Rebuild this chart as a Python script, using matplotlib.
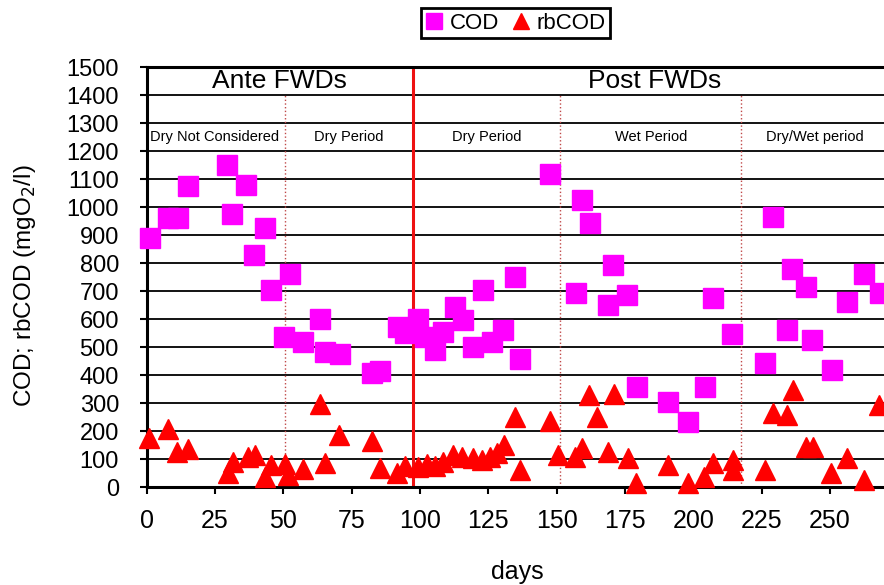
import matplotlib.pyplot as plt

plt.rcParams['font.family'] = ['Liberation Sans', 'DejaVu Sans']

# COD samples (day, mgO2/l)
cod_days = [1.2, 7.9, 11.3, 15.0, 29.4, 31.3, 36.2, 39.3, 43.3, 45.5, 50.3, 52.4,
            57.3, 63.4, 65.2, 70.7, 82.3, 85.4, 92.0, 94.5, 99.4, 101.8, 105.5,
            108.5, 112.8, 115.8, 119.5, 123.2, 126.2, 130.5, 134.8, 136.6, 147.6,
            157.1, 159.2, 162.2, 168.9, 170.7, 175.9, 179.3, 190.9, 198.2, 204.3,
            207.1, 214.0, 226.2, 229.3, 234.2, 236.0, 241.2, 243.3, 250.6, 256.1,
            262.5, 268.3]
cod_vals = [890, 960, 960, 1076, 1150, 975, 1078, 829, 924, 704, 535, 763,
            519, 599, 483, 477, 408, 415, 572, 549, 600, 537, 489,
            555, 644, 596, 501, 704, 519, 561, 751, 459, 1120,
            692, 1025, 942, 650, 793, 686, 358, 305, 233, 358,
            674, 548, 444, 965, 561, 780, 715, 525, 418, 662,
            763, 692]

# readily biodegradable COD samples
rb_days = [0.8, 7.9, 11.2, 15.0, 29.6, 31.7, 37.0, 39.6, 43.3, 45.5, 50.6, 51.8,
           57.3, 63.4, 65.2, 70.5, 82.3, 85.4, 91.5, 94.5, 99.4, 102.4, 105.5,
           108.5, 112.2, 115.3, 119.5, 122.6, 125.6, 128.0, 130.7, 134.8, 136.6,
           147.7, 150.6, 156.7, 159.2, 162.0, 164.9, 168.9, 171.0, 176.0, 178.9,
           190.9, 197.9, 204.0, 207.1, 214.6, 214.4, 226.2, 229.3, 234.2, 236.4,
           241.2, 243.9, 250.3, 256.1, 262.5, 268.0]
rb_vals = [174, 206, 126, 135, 49, 90, 106, 114, 37, 79, 84, 43,
           63, 296, 85, 186, 165, 67, 49, 75, 70, 82, 76,
           90, 114, 108, 102, 96, 108, 120, 150, 251, 61,
           236, 114, 108, 138, 329, 251, 126, 331, 102, 13,
           79, 13, 37, 85, 96, 61, 61, 263, 257, 346,
           144, 144, 49, 102, 25, 293]

phase_split = 97.5
period_splits = [50.5, 151.3, 217.4]
phase_labels = [(48.5, 'Ante FWDs'), (186, 'Post FWDs')]
period_labels = [(25, 'Dry Not Considered'), (73.8, 'Dry Period'), (124.5, 'Dry Period'),
                 (184.5, 'Wet Period'), (244.5, 'Dry/Wet period')]

fig = plt.figure(figsize=(8.84, 5.85), dpi=100)
ax = fig.add_axes([0.166, 0.1675, 0.834, 0.7175])

ax.set_xlim(0, 269.8)
ax.set_ylim(0, 1500)
ax.set_xticks(range(0, 275, 25))
ax.set_yticks(range(0, 1600, 100))

# horizontal grid at every 100
for yv in range(100, 1500, 100):
    ax.axhline(yv, color='black', lw=1.3, zorder=1)

ax.axvline(phase_split, color='#ee1111', lw=2.2, zorder=2)
ax.vlines(period_splits, 0, 1400, colors='#c04848', linestyles=':', lw=1.0, zorder=2)

for xv, txt in phase_labels:
    ax.text(xv, 1450, txt, ha='center', va='center', fontsize=19)
for xv, txt in period_labels:
    ax.text(xv, 1250, txt, ha='center', va='center', fontsize=10.5)

ax.plot(cod_days, cod_vals, 's', color='#ff00ff', ms=14.5, mec='#ff00ff',
        label='COD', clip_on=False, zorder=4)
ax.plot(rb_days, rb_vals, '^', color='#ff0000', ms=15, mec='#ff0000',
        label='rbCOD', clip_on=False, zorder=5)

for side in ['left', 'bottom', 'top']:
    ax.spines[side].set_linewidth(2.2)
ax.spines['right'].set_visible(False)
ax.tick_params(axis='y', direction='out', length=5, width=1.5, labelsize=17, pad=15)
ax.tick_params(axis='x', direction='out', length=5, width=1.5, labelsize=18, pad=11)

ax.set_ylabel('COD; rbCOD (mgO$_2$/l)', fontsize=17.5)
ax.yaxis.set_label_coords(-0.147, 0.48)
ax.set_xlabel('days', fontsize=18)
ax.xaxis.set_label_coords(0.502, -0.175)

leg = fig.legend(loc='upper center', bbox_to_anchor=(0.583, 0.986), ncol=2,
                 fontsize=16, markerscale=0.75, handlelength=0.8, handletextpad=0.3,
                 columnspacing=0.6, borderpad=0.2, borderaxespad=0, fancybox=False,
                 framealpha=1, edgecolor='black')
leg.get_frame().set_linewidth(2)

fig.savefig('out.png', dpi=100)
